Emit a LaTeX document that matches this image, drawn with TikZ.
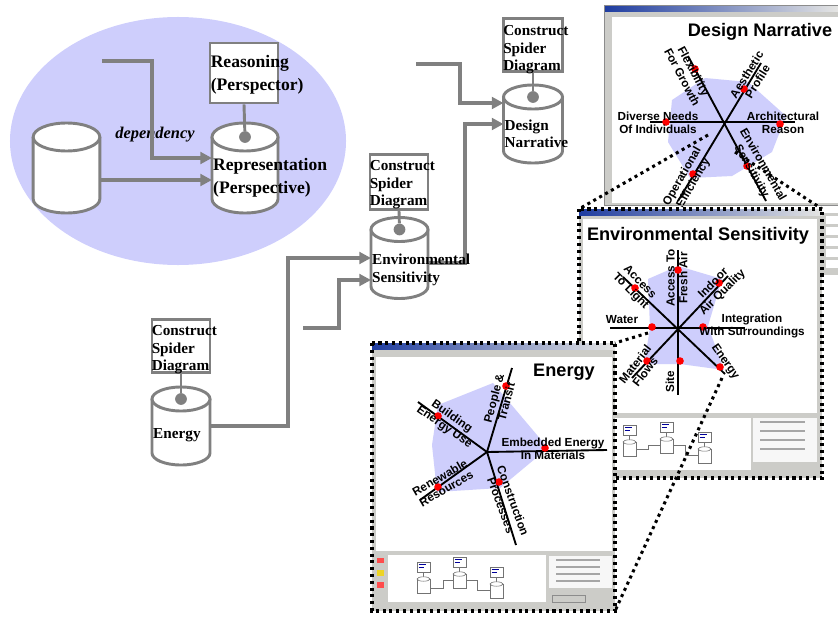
\documentclass[tikz,border=0pt]{standalone}
\usepackage{fontspec}
\setmainfont{Liberation Serif}
\setsansfont{Liberation Sans}
\usetikzlibrary{arrows.meta,calc}
\colorlet{flowgray}{black!50}
\definecolor{lavender}{RGB}{206,206,252}
\definecolor{winblue}{RGB}{30,60,160}
\definecolor{wingray}{RGB}{204,204,200}

\tikzset{
  depflow/.style={flowgray, line width=3.4pt, -{Triangle[length=10pt,width=10pt]}},
  dbspace/.style={inner sep=0pt, outer sep=0pt},
  dbline/.style={draw=flowgray, line width=2.5pt},
  opbox/.style={draw=flowgray, line width=2.5pt, fill=white, inner sep=0pt},
  opdot/.style={circle, fill=flowgray, inner sep=0pt, minimum size=10pt},
  oplink/.style={flowgray, line width=2.5pt},
  bigtext/.style={font=\fontsize{15}{20}\selectfont\bfseries, align=left, inner sep=0pt},
  optext/.style={font=\fontsize{13}{15}\selectfont\bfseries, align=left, inner sep=0pt},
  zoomline/.style={line width=2.6pt, dash pattern=on 2.6pt off 3.2pt},
  spoke/.style={line width=1.6pt},
  reddot/.style={circle, fill=red, inner sep=0pt, minimum size=6.5pt},
  axlabel/.style={font=\fontsize{10}{11}\selectfont\sffamily\bfseries, align=center, inner sep=0pt},
  wintitle/.style={font=\fontsize{15.5}{18}\selectfont\sffamily\bfseries, inner sep=0pt},
  minidb/.pic={
    \draw[black!55, line width=0.5pt, fill=white] (0,0) rectangle (13,10);
    \draw[blue!60!black, line width=0.6pt] (1.5,2.5) -- (9,2.5) (1.5,5) -- (7,5);
    \draw[black!55, line width=0.5pt] (6.5,10) -- (6.5,17);
    \draw[black!55, line width=0.5pt, fill=white] (0,17) rectangle (13,31);
    \draw[black!55, line width=0.5pt, fill=white] (6.5,17) ellipse [x radius=0.195cm, y radius=0.066cm];
  }
}

% cylinder round a named node: #1 node, #2 x radius, #3 y radius
\newcommand{\dbdraw}[3]{%
  \fill[white] ($(#1.north west)+(0pt,-#3)$) -- ($(#1.south west)+(0pt,#3)$)
    arc[start angle=180, end angle=360, x radius=#2, y radius=#3] -- ($(#1.north east)+(0pt,-#3)$) -- cycle;
  \draw[dbline] ($(#1.north west)+(0pt,-#3)$) -- ($(#1.south west)+(0pt,#3)$)
    arc[start angle=180, end angle=360, x radius=#2, y radius=#3] -- ($(#1.north east)+(0pt,-#3)$);
  \draw[dbline, fill=white] ($(#1.north)+(0pt,-#3)$) ellipse [x radius=#2, y radius=#3];
}

\begin{document}
\begin{tikzpicture}[x=0.03cm, y=-0.03cm]
\useasboundingbox (0,0) rectangle (838,617);

% perspective cloud
\fill[lavender] (178,141) ellipse [x radius=5.04cm, y radius=3.72cm];

% design narrative window
\fill[wingray] (604,5) rectangle (838,205);
\shade[left color=winblue, right color=wingray!50] (604,5) rectangle (838,11);
\fill[white] (612,17) rectangle (838,203);
\fill[lavender] (705,78) -- (748,82) -- (786,116) -- (772,152) -- (732,176) -- (690,178) -- (668,142) -- (672,100) -- cycle;
\draw[spoke] (650,122) -- (795,122);
\draw[spoke] (688,56) -- (766,201);
\draw[spoke] (761,63) -- (678,201);
\foreach \p in {(695,69),(744,89),(666,122),(780,124),(693,174),(747,166)}
  \node[reddot] at \p {};
\node[wintitle] (dntitle) at (760,32) {Design Narrative};
\node[axlabel, rotate=-62] (dn1) at (688,74) {Flexibility\\For Growth};
\node[axlabel, rotate=58] (dn2) at (752,78) {Aesthetic\\Profile};
\node[axlabel] (dn3) at (658,123) {Diverse Needs\\Of Individuals};
\node[axlabel] (dn4) at (783,123) {Architectural\\Reason};
\node[axlabel, rotate=60] (dn5) at (688,180) {Operational\\Efficiency};
\node[axlabel, rotate=-60] (dn6) at (757,168) {Environmental\\Sensitivity};
\draw[black!45, line width=0.6pt] (604,5) rectangle (838,205);

\fill[wingray] (822,213) rectangle (838,275);
\foreach \r in {0,1,2,3,4}
  \fill[white] (826,216+\r*11) rectangle (838,224+\r*11);

\draw[zoomline] (708,135) -- (579,209);
\draw[zoomline] (735,152) -- (822,209);

% environmental sensitivity window
\fill[wingray] (579,209) rectangle (822,478);
\shade[left color=winblue, right color=wingray!50] (579,209) rectangle (822,215);
\fill[white] (583,219) rectangle (817,413);
\fill[lavender] (648,279) -- (678,266) -- (722,279) -- (708,326) -- (724,370) -- (680,364) -- (644,364) -- (650,328) -- cycle;
\draw[spoke] (678,250) -- (678,395);
\draw[spoke] (610,328) -- (745,328);
\draw[spoke] (623,277) -- (725,374);
\draw[spoke] (728,276) -- (632,378);
\foreach \p in {(678,270),(635,288),(719,283),(652,327),(703,327),(647,361),(680,361),(720,367)}
  \node[reddot] at \p {};
\node[wintitle] (estitle) at (698,236) {Environmental Sensitivity};
\node[axlabel, rotate=90] (es1) at (677,278) {Access To\\Fresh Air};
\node[axlabel, rotate=-45] (es2) at (635,287) {Access\\To Light};
\node[axlabel, rotate=45] (es3) at (718,288) {Indoor\\Air Quality};
\node[axlabel] (es4) at (622,320) {Water};
\node[axlabel] (es5) at (752,326) {Integration\\With Surroundings};
\node[axlabel, rotate=52] (es6) at (640,368) {Material\\Flows};
\node[axlabel, rotate=90] (es7) at (670,382) {Site};
\node[axlabel, rotate=-55] (es8) at (725,362) {Energy};
\fill[white] (585,418) rectangle (751,470);
\pic at (623,425) {minidb};
\pic at (660,422) {minidb};
\pic at (698,432) {minidb};
\draw[black!55, line width=0.5pt] (636,449) -- (648,449) -- (648,445) -- (660,445);
\draw[black!55, line width=0.5pt] (673,445) -- (685,445) -- (685,455) -- (698,455);
\fill[white!85!wingray] (753,418) rectangle (817,462);
\foreach \r in {0,1,2,3}
  \draw[black!35, line width=1pt] (760,422+\r*9) -- (805,422+\r*9);
\draw[zoomline] (579,209) rectangle (822,478);

\draw[zoomline] (648,333) -- (615,343);
\draw[zoomline] (722,378) -- (615,611);

% energy window
\fill[wingray] (372,343) rectangle (615,611);
\shade[left color=winblue, right color=wingray!50] (372,343) rectangle (615,349);
\fill[white] (376,357) rectangle (612,551);
\fill[lavender] (438,405) -- (493,383) -- (548,448) -- (500,488) -- (437,492) -- (432,445) -- cycle;
\draw[spoke] (487,452) -- (512,368);
\draw[spoke] (487,452) -- (418,402);
\draw[spoke] (487,452) -- (607,450);
\draw[spoke] (487,452) -- (420,500);
\draw[spoke] (487,452) -- (516,545);
\foreach \p in {(506,386),(438,416),(545,448),(438,487),(499,482)}
  \node[reddot] at \p {};
\node[wintitle] (entitle) at (564,372) {Energy};
\node[axlabel, rotate=75] (en1) at (500,400) {People \&\\Transit};
\node[axlabel, rotate=-35] (en2) at (448,422) {Building\\Energy Use};
\node[axlabel] (en3) at (553,449) {Embedded Energy\\In Materials};
\node[axlabel, rotate=30] (en4) at (443,483) {Renewable\\Resources};
\node[axlabel, rotate=-70] (en5) at (507,503) {Construction\\Processes};
\fill[red!70] (377,558) rectangle (384,563);
\fill[yellow!70!brown] (377,570) rectangle (384,576);
\fill[red!70] (377,582) rectangle (384,588);
\fill[white] (388,555) rectangle (546,602);
\pic at (417,562) {minidb};
\pic at (453,557) {minidb};
\pic at (490,567) {minidb};
\draw[black!55, line width=0.5pt] (430,588) -- (443,588) -- (443,580) -- (453,580);
\draw[black!55, line width=0.5pt] (466,580) -- (477,580) -- (477,590) -- (490,590);
\fill[white!85!wingray] (549,556) rectangle (612,588);
\foreach \r in {0,1,2,3}
  \draw[black!35, line width=1pt] (556,560+\r*7) -- (600,560+\r*7);
\draw[black!45, line width=0.6pt] (552,595) rectangle (585,602);
\draw[zoomline] (372,343) rectangle (615,611);

% perspective diagram
\node[dbspace, minimum width=2cm, minimum height=2.7cm] (db1) at (66.5,168) {};
\node[dbspace, minimum width=1.98cm, minimum height=2.7cm] (repr) at (245,168) {};
\dbdraw{db1}{1cm}{0.42cm}
\dbdraw{repr}{0.99cm}{0.42cm}
\node[opbox, minimum width=58pt, minimum height=51.2pt] (reason) at (244,73) {};
\node[opdot] (rdot) at ($(repr.north)+(0pt,-0.42cm)$) {};
\draw[oplink] (reason.south) -- (rdot);
\node[bigtext, anchor=west] (reasontxt) at ($(reason.west)+(2,2)$) {Reasoning\\(Perspector)};
\node[bigtext, anchor=west] (reprtxt) at ($(repr.west)+(1,10)$) {Representation\\(Perspective)};
\node[font=\fontsize{14}{16}\selectfont\bfseries\itshape, inner sep=0pt] (dep) at (155,135) {dependency};
\coordinate (depin) at (102,61);
\draw[depflow] (depin) -- ++(50,0) |- ($(repr.west)+(0,-10)$);
\draw[depflow] ($(db1.east)+(0,12)$) -- ($(repr.west)+(0,12)$);

% spider diagram operators
\node[dbspace, minimum width=1.77cm, minimum height=2.34cm] (dn) at (533,124) {};
\dbdraw{dn}{0.885cm}{0.36cm}
\node[opbox, minimum width=50.4pt, minimum height=46pt] (dnbox) at (533,45) {};
\node[opdot] (dndot) at ($(dn.north)+(0pt,-0.36cm)$) {};
\draw[oplink] (dnbox.south) -- (dndot);

\node[dbspace, minimum width=1.71cm, minimum height=2.43cm] (env) at (399.5,258) {};
\dbdraw{env}{0.855cm}{0.36cm}
\node[opbox, minimum width=49.5pt, minimum height=47pt] (envbox) at (399,182) {};
\node[opdot] (envdot) at ($(env.north)+(0pt,-0.36cm)$) {};
\draw[oplink] (envbox.south) -- (envdot);

\node[dbspace, minimum width=1.74cm, minimum height=2.34cm] (energy) at (181,426) {};
\dbdraw{energy}{0.87cm}{0.36cm}
\node[opbox, minimum width=49.5pt, minimum height=45pt] (enbox) at (181,346) {};
\node[opdot] (endot) at ($(energy.north)+(0pt,-0.36cm)$) {};
\draw[oplink] (enbox.south) -- (endot);

\coordinate (dnin) at (416,64);
\coordinate (envin) at (303,328);
\draw[depflow] (dnin) -- ++(44,0) |- ($(dn.west)+(0,-21)$);
\draw[depflow] ($(env.east)+(0,5)$) -- ++(37,0) |- (dn.west);
\draw[depflow] (energy.east) -- ++(78,0) |- (env.west);
\draw[depflow] (envin) -- ++(36,0) |- ($(env.west)+(0,22)$);

\node[optext, anchor=west] (dnboxtxt) at ($(dnbox.west)+(1,5)$) {Construct\\Spider\\Diagram};
\node[optext, anchor=west] (envboxtxt) at ($(envbox.west)+(1,3)$) {Construct\\Spider\\Diagram};
\node[optext, anchor=west] (enboxtxt) at ($(enbox.west)+(1,4)$) {Construct\\Spider\\Diagram};
\node[optext, anchor=west] (dntxt) at ($(dn.west)+(1,10)$) {Design\\Narrative};
\node[optext, anchor=west] (envtxt) at ($(env.west)+(1,12)$) {Environmental\\Sensitivity};
\node[optext, anchor=west] (entxt) at ($(energy.west)+(1,9)$) {Energy};
\end{tikzpicture}
\end{document}
